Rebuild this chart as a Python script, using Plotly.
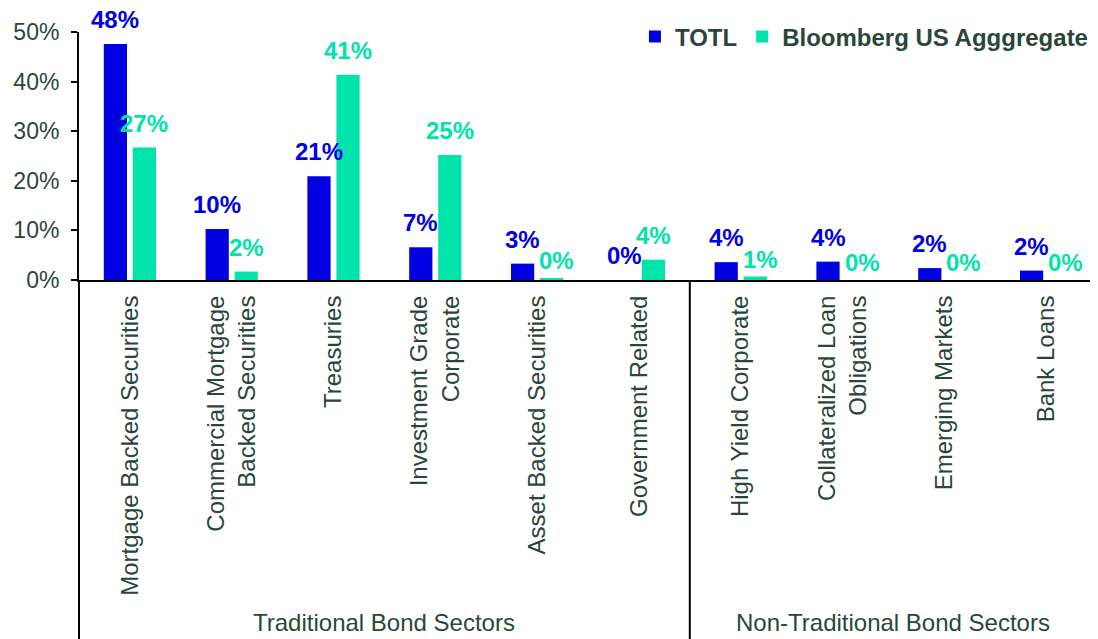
import plotly.graph_objects as go

categories = [
    "Mortgage Backed Securities",
    "Commercial Mortgage<br>Backed Securities",
    "Treasuries",
    "Investment Grade<br>Corporate",
    "Asset Backed Securities",
    "Government Related",
    "High Yield Corporate",
    "Collateralized Loan<br>Obligations",
    "Emerging Markets",
    "Bank Loans",
]
totl = [47.6, 10.3, 20.9, 6.6, 3.3, 0.0, 3.6, 3.7, 2.4, 1.9]
agg = [26.7, 1.7, 41.4, 25.2, 0.4, 4.1, 0.7, 0.0, 0.0, 0.0]
series_names = ["TOTL", "Bloomberg US Agggregate"]
group_labels = ["Traditional Bond Sectors", "Non-Traditional Bond Sectors"]
group_centers = [2.5, 7.5]
group_split = 5.5
y_ticks = [0, 10, 20, 30, 40, 50]

BLUE = "#0000E1"
TEAL = "#00E3AA"
TXT = "#2a463a"
FONT = "Liberation Sans, Arial, sans-serif"

fig = go.Figure()
series = [(series_names[0], totl, BLUE, -14.5), (series_names[1], agg, TEAL, 14.5)]
annotations = []
for name, vals, col, dx in series:
    fig.add_trace(go.Bar(
        x=categories, y=vals, name=name, marker=dict(color=col, line=dict(width=0)),
        cliponaxis=False,
    ))
    for c, v in zip(categories, vals):
        lift = 2 if (col == TEAL and v < 1) else 9
        shift = dx + (5 if (col == TEAL and v < 1) else 0)
        annotations.append(dict(
            text=f"{v:.0f}%", x=c, y=v, xref="x", yref="y", showarrow=False,
            xanchor="center", yanchor="bottom", xshift=shift, yshift=lift,
            font=dict(family=FONT, size=24, color=col, weight="bold"),
        ))

shapes = [
    dict(type="line", xref="paper", yref="paper", x0=0, x1=0, y0=0, y1=-1.46,
         line=dict(color="black", width=2)),
    dict(type="line", xref="x", yref="paper", x0=group_split, x1=group_split, y0=0, y1=-1.46,
         line=dict(color="black", width=2)),
    dict(type="line", xref="paper", yref="paper", x0=0.999, x1=0.999, y0=-1.46, y1=1.0,
         line=dict(color="#d8d8d8", width=1)),
]
annotations += [
    dict(text=t, x=c, xref="x", y=-1.383, yref="paper", showarrow=False,
         yanchor="middle", xanchor="center", font=dict(family=FONT, size=24, color=TXT))
    for t, c in zip(group_labels, group_centers)
]

fig.update_layout(
    width=1090, height=631,
    margin=dict(l=71, r=1, t=24, b=359, autoexpand=False),
    paper_bgcolor="white", plot_bgcolor="white",
    barmode="group", bargap=0.43, bargroupgap=0.2,
    font=dict(family=FONT, color=TXT),
    legend=dict(orientation="h", x=0.997, xanchor="right", y=0.98, yanchor="middle",
                font=dict(family=FONT, size=24, color=TXT, weight="bold"),
                itemwidth=30, bgcolor="rgba(0,0,0,0)", traceorder="normal"),
    shapes=shapes, annotations=annotations,
)
fig.update_xaxes(
    tickangle=-90, showline=True, linecolor="black", linewidth=2, automargin=False,
    ticks="", showgrid=False, tickfont=dict(family=FONT, size=24, color=TXT),
    ticklabelstandoff=4,
)
fig.update_yaxes(
    range=[0, 50], tickvals=y_ticks, ticktext=[f"{v}%" for v in y_ticks], showgrid=False,
    showline=True, linecolor="black", linewidth=2, ticks="outside", ticklen=6,
    tickwidth=2, tickcolor="black", zeroline=False, automargin=False,
    tickfont=dict(family=FONT, size=23, color=TXT), ticklabelstandoff=7,
)
fig.write_html("out.html")
